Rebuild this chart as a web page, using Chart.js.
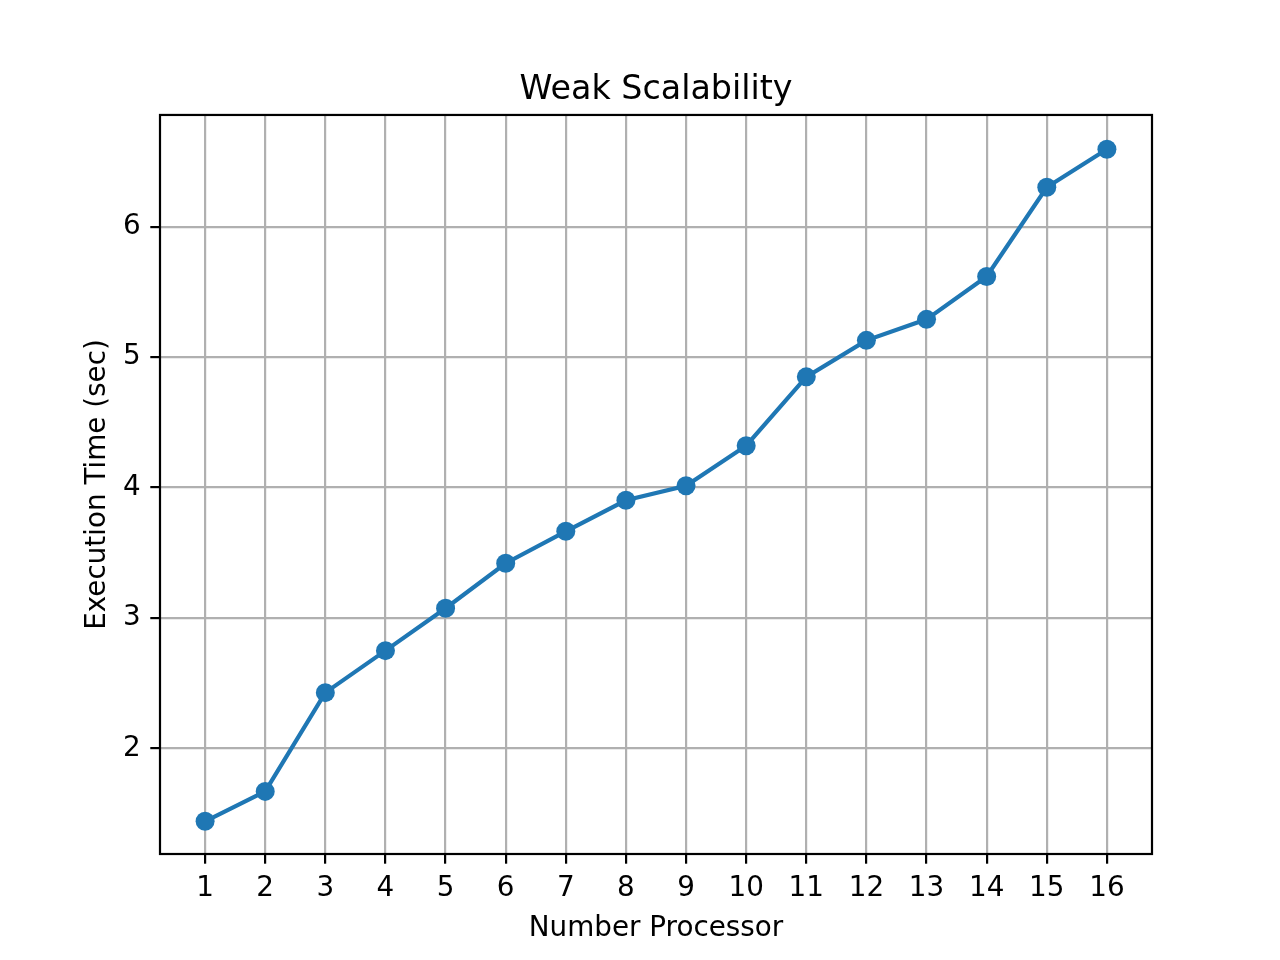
<!DOCTYPE html>
<html lang="en">
<head>
    <meta charset="UTF-8">
    <title>Weak Scalability</title>
    <script src="https://cdn.jsdelivr.net/npm/chart.js"></script>
    <style>
        body { margin: 0; background: #fff; }
        canvas { display: block; }
    </style>
</head>
<body>
    <canvas id="weakChart" width="1280" height="960"></canvas>

    <script>
        // data
        const processors = [1, 2, 3, 4, 5, 6, 7, 8, 9, 10, 11, 12, 13, 14, 15, 16];
        const execTimes = [1.441, 1.670, 2.427, 2.749, 3.074, 3.419, 3.664, 3.902, 4.013, 4.320, 4.848, 5.128, 5.289, 5.618, 6.302, 6.593];
        const xTicks = [1, 2, 3, 4, 5, 6, 7, 8, 9, 10, 11, 12, 13, 14, 15, 16];
        const yTicks = [2, 3, 4, 5, 6];

        const FONT = 'DejaVu Sans';
        const blue = '#1f77b4';

        // top and right spines like matplotlib
        const framePlugin = {
            id: 'frame',
            afterDatasetsDraw(chart) {
                const {ctx, chartArea: a} = chart;
                ctx.save();
                ctx.strokeStyle = '#000';
                ctx.lineWidth = 2.2;
                ctx.strokeRect(a.left, a.top, a.right - a.left, a.bottom - a.top);
                ctx.restore();
            }
        };

        const ctx = document.getElementById('weakChart').getContext('2d');
        new Chart(ctx, {
            type: 'line',
            data: {
                datasets: [{
                    label: 'Execution Time',
                    data: processors.map((p, i) => ({x: p, y: execTimes[i]})),
                    borderColor: blue,
                    backgroundColor: blue,
                    borderWidth: 4.2,
                    pointRadius: 9.5,
                    pointBorderWidth: 0,
                    pointBackgroundColor: blue,
                    tension: 0
                }]
            },
            options: {
                responsive: false,
                animation: false,
                devicePixelRatio: 1,
                layout: { padding: { left: 0, right: 128, top: 0, bottom: 0 } },
                plugins: {
                    legend: { display: false },
                    tooltip: { enabled: false },
                    title: {
                        display: true,
                        fullSize: false,   // centre over the plot area, not the canvas
                        text: 'Weak Scalability',
                        color: '#000',
                        font: { family: FONT, size: 33.3, weight: 'normal', lineHeight: 1.2 },
                        padding: { top: 70, bottom: 5 }
                    }
                },
                scales: {
                    x: {
                        type: 'linear',
                        min: 0.25,
                        max: 16.75,
                        afterFit(scale) { scale.height = 106; },
                        afterBuildTicks(scale) { scale.ticks = xTicks.map(v => ({value: v})); },
                        ticks: {
                            color: '#000',
                            padding: 8.6,
                            maxRotation: 0,
                            autoSkip: false,
                            font: { family: FONT, size: 27.8, lineHeight: 1.2 },
                            callback: v => String(v)
                        },
                        grid: {
                            color: '#b0b0b0',
                            lineWidth: 2.2,
                            drawTicks: true,
                            tickLength: 9.7,
                            tickColor: '#000',
                            tickWidth: 2.2
                        },
                        border: { display: false },
                        title: {
                            display: true,
                            text: 'Number Processor',
                            color: '#000',
                            font: { family: FONT, size: 27.8, lineHeight: 1.2 },
                            padding: { top: 0, bottom: 14.5 }
                        }
                    },
                    y: {
                        type: 'linear',
                        min: 1.19,
                        max: 6.856,
                        afterFit(scale) { scale.width = 160; },
                        afterBuildTicks(scale) { scale.ticks = yTicks.map(v => ({value: v})); },
                        ticks: {
                            color: '#000',
                            padding: 9.7,
                            font: { family: FONT, size: 27.8, lineHeight: 1.2 },
                            callback: v => String(v)
                        },
                        grid: {
                            color: '#b0b0b0',
                            lineWidth: 2.2,
                            drawTicks: true,
                            tickLength: 9.7,
                            tickColor: '#000',
                            tickWidth: 2.2
                        },
                        border: { display: false },
                        title: {
                            display: true,
                            text: 'Execution Time (sec)',
                            color: '#000',
                            font: { family: FONT, size: 27.8, lineHeight: 1.2 },
                            padding: { top: 81, bottom: 0 }
                        }
                    }
                }
            },
            plugins: [framePlugin]
        });
    </script>
</body>
</html>
